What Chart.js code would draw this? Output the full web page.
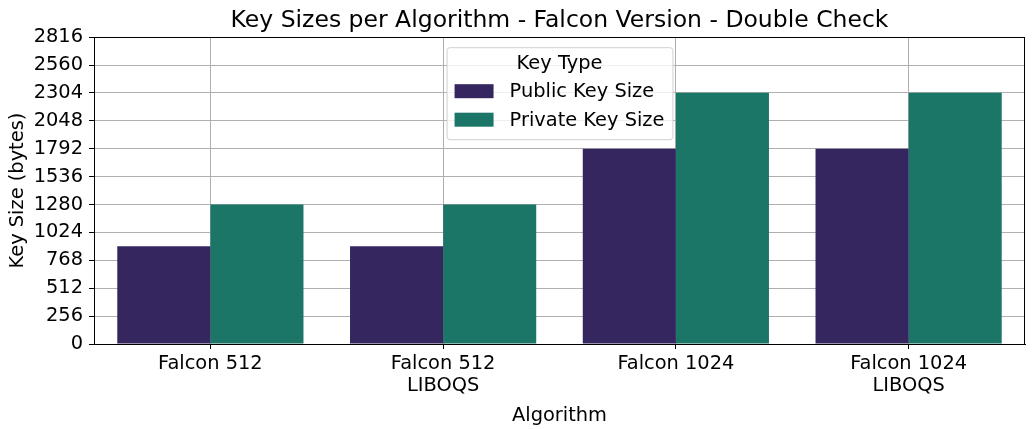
<!DOCTYPE html>
<html>
<head>
<meta charset="utf-8">
<script src="https://cdn.jsdelivr.net/npm/chart.js"></script>
<style>
  html, body { margin: 0; padding: 0; background: #fff; }
  #wrap { width: 1033px; height: 429px; }
</style>
</head>
<body>
<div id="wrap"><canvas id="myChart" width="1033" height="429"></canvas></div>
<script>
// values
let algorithms = [['Falcon 512'], ['Falcon 512', 'LIBOQS'], ['Falcon 1024'], ['Falcon 1024', 'LIBOQS']];
let publicKey = [897, 897, 1793, 1793];
let privateKey = [1281, 1281, 2305, 2305];
let seriesNames = ['Public Key Size', 'Private Key Size'];
let colors = ['#35265f', '#1b7667'];

const FONT = 'DejaVu Sans';
const FS = 19.4;

// box round the plot plus the legend inside it
let framePlugin = {
    id: 'frame',
    afterDraw(chart) {
        let ctx = chart.ctx;
        let a = chart.chartArea;
        ctx.save();
        ctx.strokeStyle = '#000';
        ctx.lineWidth = 1;
        ctx.strokeRect(Math.round(a.left) + 0.5, Math.round(a.top) + 0.5,
            Math.round(a.right - a.left) - 1, Math.round(a.bottom - a.top));

        // legend
        ctx.font = FS + 'px "' + FONT + '"';
        let w = 0;
        seriesNames.forEach(n => { w = Math.max(w, ctx.measureText(n).width); });
        let boxW = 8 + 39 + 16 + w + 8;
        let boxH = 92;
        let x0 = (a.left + a.right) / 2 - boxW / 2;
        let y0 = a.top + 10;
        ctx.beginPath();
        ctx.roundRect(x0 + 0.5, y0 + 0.5, boxW, boxH, 3);
        ctx.fillStyle = 'rgba(255,255,255,0.8)';
        ctx.fill();
        ctx.strokeStyle = '#d0d0d0';
        ctx.stroke();
        ctx.fillStyle = '#000';
        ctx.textBaseline = 'middle';
        ctx.textAlign = 'center';
        ctx.fillText('Key Type', x0 + boxW / 2, y0 + 17);
        ctx.textAlign = 'left';
        seriesNames.forEach((n, i) => {
            let cy = y0 + 44 + i * 28.5;
            ctx.fillStyle = colors[i];
            ctx.fillRect(x0 + 8, cy - 7, 39, 14);
            ctx.fillStyle = '#000';
            ctx.fillText(n, x0 + 63, cy + 1);
        });
        ctx.restore();
    }
};

let ctx = document.getElementById('myChart').getContext('2d');
let chart = new Chart(ctx, {
    type: 'bar',
    data: {
        labels: algorithms,
        datasets: [{
            label: seriesNames[0],
            backgroundColor: colors[0],
            borderWidth: 0,
            data: publicKey
        }, {
            label: seriesNames[1],
            backgroundColor: colors[1],
            borderWidth: 0,
            data: privateKey
        }]
    },
    options: {
        responsive: false,
        animation: false,
        categoryPercentage: 0.8,
        barPercentage: 1.0,
        layout: { padding: { left: 0, right: 8, top: 0, bottom: 0 } },
        plugins: {
            legend: { display: false },
            tooltip: { enabled: false },
            title: {
                display: true,
                fullSize: false,
                text: 'Key Sizes per Algorithm - Falcon Version - Double Check',
                color: '#000',
                font: { family: FONT, size: 23.5, weight: 'normal', lineHeight: 1.2 },
                padding: { top: 7, bottom: 2 }
            }
        },
        scales: {
            x: {
                z: 1,
                afterFit(scale) { scale.height = 85; },
                grid: { color: '#b0b0b0', lineWidth: 1, offset: false, tickLength: 5, tickColor: '#000' },
                border: { color: '#000', width: 1 },
                ticks: { color: '#000', padding: 4, font: { family: FONT, size: FS, lineHeight: 1.15 } },
                title: {
                    display: true, text: 'Algorithm', color: '#000',
                    font: { family: FONT, size: FS }, padding: { top: 4, bottom: 1 }
                }
            },
            y: {
                z: 1,
                min: 0,
                max: 2816,
                afterFit(scale) { scale.width = 94; },
                grid: { color: '#b0b0b0', lineWidth: 1, tickLength: 5, tickColor: '#000' },
                border: { color: '#000', width: 1 },
                ticks: {
                    color: '#000', stepSize: 256, padding: 6,
                    font: { family: FONT, size: FS },
                    callback: v => String(v)
                },
                title: {
                    display: true, text: 'Key Size (bytes)', color: '#000',
                    font: { family: FONT, size: FS }, padding: { top: 6, bottom: 4 }
                }
            }
        }
    },
    plugins: [framePlugin]
});
</script>
</body>
</html>
